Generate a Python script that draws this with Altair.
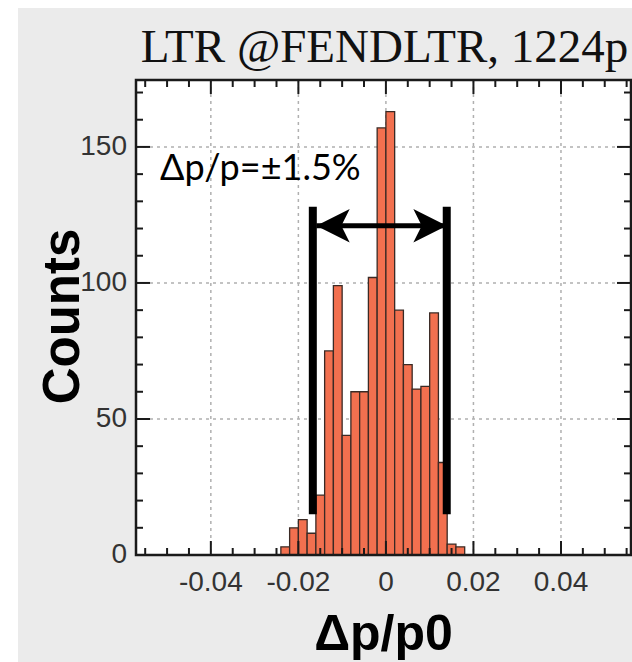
import altair as alt
import pandas as pd

# ---------------- data ----------------
TITLE = "LTR @FENDLTR, 1224p"
X_TITLE = "Δp/p0"
Y_TITLE = "Counts"
ANNOT = "Δp/p=±1.5%"

bin_left = [-0.024, -0.022, -0.020, -0.018, -0.016, -0.014, -0.012, -0.010,
            -0.008, -0.006, -0.004, -0.002, 0.000, 0.002, 0.004, 0.006,
            0.008, 0.010, 0.012, 0.014, 0.016]
counts = [3, 10, 13, 8, 22, 75, 99, 44, 60, 60, 102, 157, 163, 90, 70, 61,
          62, 89, 34, 4, 3]
bin_width = 0.002

x_major = [-0.04, -0.02, 0.0, 0.02, 0.04]
x_labels = ["-0.04", "-0.02", "0", "0.02", "0.04"]
x_minor = [-0.055, -0.05, -0.045, -0.035, -0.03, -0.025, -0.015, -0.01, -0.005,
           0.005, 0.01, 0.015, 0.025, 0.03, 0.035, 0.045, 0.05, 0.055]
y_major = [0, 50, 100, 150]
y_labels = ["0", "50", "100", "150"]
y_minor = [10, 20, 30, 40, 60, 70, 80, 90, 110, 120, 130, 140, 160, 170]
y_grid = [50, 100, 150]

window_x = [-0.0167, 0.0139]      # the two black vertical bars
window_y = [15, 128]
arrow_x = [-0.0159, 0.0139]       # arrow tips
arrow_y = [121, 121]
annot_x = [-0.0516]
annot_y = [138]

x_domain = [-0.0571, 0.056]
y_domain = [0, 174.6]

# ---------------- layout ----------------
PW, PH = 495, 475
PAD = {"left": 136, "top": 80, "right": 1, "bottom": 107}
MAJ, MIN = 14, 7
FRAME = "#1a1a1a"
LABEL_FONT = "Liberation Sans"

xs = alt.Scale(domain=x_domain, nice=False, zero=False)
ys = alt.Scale(domain=y_domain, nice=False, zero=False)

def X(f):
    return alt.X(f, type="quantitative", scale=xs, axis=None)

def Y(f):
    return alt.Y(f, type="quantitative", scale=ys, axis=None)

one = pd.DataFrame({"k": [0]})

# white page margins (top and left) around the grey canvas
white_top = alt.Chart(one).mark_rect(color="white").encode(
    x=alt.value(-PAD["left"]), x2=alt.value(PW + PAD["right"]),
    y=alt.value(-PAD["top"]), y2=alt.value(8 - PAD["top"]))
white_left = alt.Chart(one).mark_rect(color="white").encode(
    x=alt.value(-PAD["left"]), x2=alt.value(18 - PAD["left"]),
    y=alt.value(-PAD["top"]), y2=alt.value(PH + PAD["bottom"]))

gx = alt.Chart(pd.DataFrame({"gx": x_major})).mark_rule(
    color="#b0b0b0", strokeDash=[3, 4], strokeWidth=1.5).encode(
    x=X("gx"), y=alt.value(0), y2=alt.value(PH))
gy = alt.Chart(pd.DataFrame({"gy": y_grid})).mark_rule(
    color="#b0b0b0", strokeDash=[3, 4], strokeWidth=1.5).encode(
    y=Y("gy"), x=alt.value(0), x2=alt.value(PW))

hist_df = pd.DataFrame({"lo": bin_left, "n": counts})
hist_df["hi"] = hist_df["lo"] + bin_width
hist_df["z"] = 0
bars = alt.Chart(hist_df).mark_rect(
    color="#f2704f", stroke="#3a2a25", strokeWidth=1.3).encode(
    x=X("lo"), x2="hi:Q", y=Y("n"), y2="z:Q")

# ---- ticks on all four sides, pointing inwards (one mark per direction) ----
xv = x_major + x_minor
xl = [MAJ] * len(x_major) + [MIN] * len(x_minor)
xt_df = pd.DataFrame({
    "xt": xv + xv,
    "p0": [PH] * len(xv) + [0] * len(xv),
    "p1": [PH - l for l in xl] + [l for l in xl]})
yv = y_major + y_minor
yl = [MAJ] * len(y_major) + [MIN] * len(y_minor)
yt_df = pd.DataFrame({
    "yt": yv + yv,
    "p0": [0] * len(yv) + [PW] * len(yv),
    "p1": [l for l in yl] + [PW - l for l in yl]})

xticks = alt.Chart(xt_df).mark_rule(color=FRAME, strokeWidth=2).encode(
    x=X("xt"), y=alt.Y("p0:Q", scale=None, axis=None), y2="p1:Q")
yticks = alt.Chart(yt_df).mark_rule(color=FRAME, strokeWidth=2).encode(
    y=Y("yt"), x=alt.X("p0:Q", scale=None, axis=None), x2="p1:Q")

frame = alt.Chart(one).mark_rect(
    fillOpacity=0, stroke=FRAME, strokeWidth=2.5).encode(
    x=alt.value(0), x2=alt.value(PW), y=alt.value(0), y2=alt.value(PH))

# tick labels and axis titles
xlab = alt.Chart(pd.DataFrame({"v": x_major, "s": x_labels})).mark_text(
    font=LABEL_FONT, fontSize=28, color="#333333", align="center",
    baseline="alphabetic").encode(x=X("v"), y=alt.value(PH + 36), text="s:N")
ylab = alt.Chart(pd.DataFrame({"v": y_major, "s": y_labels})).mark_text(
    font=LABEL_FONT, fontSize=28, color="#333333", align="right",
    baseline="middle").encode(y=Y("v"), x=alt.value(-9), text="s:N")
xtitle = alt.Chart(pd.DataFrame({"s": [X_TITLE]})).mark_text(
    font=LABEL_FONT, fontSize=50, fontWeight="bold", color="black",
    align="center", baseline="alphabetic").encode(
    x=alt.value(PW / 2), y=alt.value(PH + 95), text="s:N")
ytitle = alt.Chart(pd.DataFrame({"s": [Y_TITLE]})).mark_text(
    font=LABEL_FONT, fontSize=51, fontWeight="bold", color="black",
    align="center", baseline="alphabetic", angle=270).encode(
    x=alt.value(-57), y=alt.value(PH / 2 - 1), text="s:N")

win_df = pd.DataFrame({"wx": window_x, "y0": [window_y[0]] * 2, "y1": [window_y[1]] * 2})
window = alt.Chart(win_df).mark_rule(color="black", strokeWidth=8, strokeCap="butt").encode(
    x=X("wx"), y=Y("y0"), y2="y1:Q")

shaft_df = pd.DataFrame({"a": [arrow_x[0]], "b": [arrow_x[1]], "ay": [arrow_y[0]]})
shaft = alt.Chart(shaft_df).mark_rule(color="black", strokeWidth=5, strokeCap="butt").encode(
    x=X("a"), x2="b:Q", y=Y("ay"))

head_l = alt.Chart(pd.DataFrame({"hx": [arrow_x[0]], "hy": [arrow_y[0]]})).mark_point(
    shape="M 0 0 L 2 -1 L 1.5 0 L 2 1 Z", filled=True, color="black",
    size=1115, opacity=1).encode(x=X("hx"), y=Y("hy"))
head_r = alt.Chart(pd.DataFrame({"hx": [arrow_x[1]], "hy": [arrow_y[1]]})).mark_point(
    shape="M 0 0 L -2 -1 L -1.5 0 L -2 1 Z", filled=True, color="black",
    size=1115, opacity=1).encode(x=X("hx"), y=Y("hy"))

annot = alt.Chart(pd.DataFrame({"ax": annot_x, "ay": annot_y, "s": [ANNOT]})).mark_text(
    font="Lato", fontSize=36, color="black", align="left", baseline="alphabetic").encode(
    x=X("ax"), y=Y("ay"), text="s:N")

title = alt.Chart(pd.DataFrame({"s": [TITLE]})).mark_text(
    font="Liberation Serif", fontSize=47, color="#111111", align="center",
    baseline="alphabetic").encode(
    x=alt.value(PW / 2 + 1), y=alt.value(-18), text="s:N")

chart = alt.layer(
    white_top, white_left, gx, gy, bars, xticks, yticks, frame,
    window, shaft, head_l, head_r, annot, title, xlab, ylab, xtitle, ytitle
).properties(
    width=PW, height=PH, padding=PAD,
    autosize=alt.AutoSizeParams(type="none"),
    background="#ebebeb"
).configure_view(stroke=FRAME, strokeWidth=2, fill="white")

chart.save("out.html", embed_options={"renderer": "svg", "actions": False})
